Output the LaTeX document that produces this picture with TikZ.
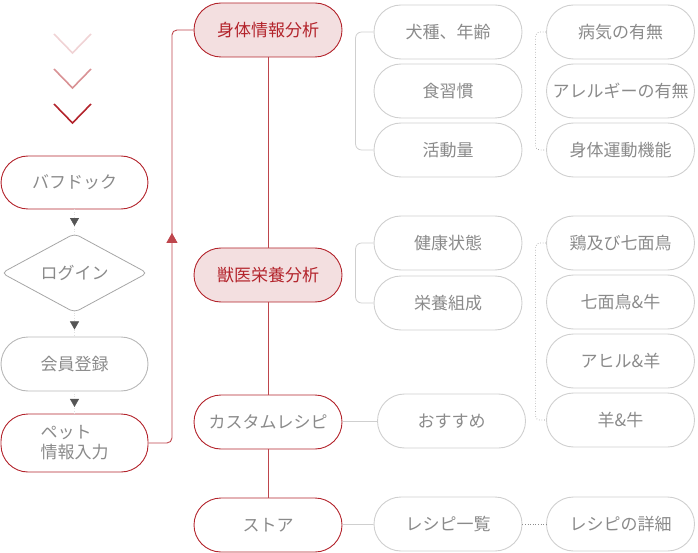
\documentclass[tikz,border=0pt]{standalone}
\usepackage{fontspec}
\setmainfont{Noto Sans CJK JP}
\usetikzlibrary{positioning}
\usetikzlibrary{shapes.geometric}
\usetikzlibrary{arrows.meta}
\usetikzlibrary{decorations.markings}

\definecolor{brand}{HTML}{B3242C}
\definecolor{blush}{HTML}{F3DFE0}
\definecolor{ink}{HTML}{8A8A8A}
\definecolor{rim}{HTML}{CFCFCF}
\definecolor{tipgray}{HTML}{555555}

\tikzset{
  pill/.style={draw=rim, line width=0.9pt, rounded corners=27pt, minimum width=148pt,
    minimum height=54pt, inner sep=0pt, text=ink, font=\fontsize{17pt}{20pt}\selectfont},
  redpill/.style={pill, draw=brand},
  pinkpill/.style={redpill, fill=blush, text=brand},
  gate/.style={diamond, draw=black!35, line width=0.8pt, rounded corners=5pt, aspect=1.85,
    minimum width=146pt, minimum height=79pt, inner sep=0pt, text=ink,
    font=\fontsize{17pt}{20pt}\selectfont},
  flow/.style={draw=black!12, dotted, postaction={decorate}, decoration={markings,
    mark=at position 0.7 with {\arrow{Triangle[width=9pt,length=8pt,color=tipgray]}}}},
  spine/.style={draw=brand!85, line width=0.9pt},
  bracket/.style={draw=rim, line width=0.8pt, rounded corners=6pt},
  dots/.style={draw=black!45, dotted, line width=0.6pt, rounded corners=4pt}
}

\begin{document}
\begin{tikzpicture}[x=1pt, y=-1pt, node distance=59pt, on grid]
    \useasboundingbox (0,0) rectangle (698,553);

    % chevrons
    \foreach \top/\tone in {34/brand!20, 69/brand!50, 104/brand}
        \draw[\tone, line width=1.6pt] (54,\top) -- (72.5,\top+19) -- (91,\top);

    % signup flow
    \node[redpill, minimum width=147pt, minimum height=53pt] (bafu) at (74.5,182.5) {バフドック};
    \node[gate] (login) [below=90.5pt of bafu] {ログイン};
    \node[pill, draw=black!28, minimum width=147pt] (member) [below=91pt of login] {会員登録};
    \node[redpill, minimum width=147pt, minimum height=58pt, align=left] (pet) [below=79pt of member] {ペット\\情報入力};

    % main steps
    \node[pinkpill] (body) at (268,30) {身体情報分析};
    \node[pinkpill] (vet) [below=245pt of body] {獣医栄養分析};
    \node[redpill] (custom) [below=147pt of vet] {カスタムレシピ};
    \node[redpill] (store) [below=103pt of custom] {ストア};

    % details
    \node[pill] (breed) at (448,32) {犬種、年齢};
    \node[pill] (habit) [below=of breed] {食習慣};
    \node[pill] (activity) [below=of habit] {活動量};
    \node[pill] (health) at (448,243) {健康状態};
    \node[pill] (nutrition) [below=60pt of health] {栄養組成};
    \node[pill] (recommend) at (451.5,421) {おすすめ};
    \node[pill] (recipes) at (448,524) {レシピ一覧};

    \node[pill] (illness) [right=172.5pt of breed] {病気の有無};
    \node[pill] (allergy) [below=of illness] {アレルギーの有無};
    \node[pill] (motor) [below=of allergy] {身体運動機能};
    \node[pill] (chicken) [right=172.5pt of health] {鶏及び七面鳥};
    \node[pill] (turkey) [below=of chicken] {七面鳥\&牛};
    \node[pill] (duck) [below=of turkey] {アヒル\&羊};
    \node[pill] (lamb) [below=of duck] {羊\&牛};
    \node[pill] (detail) [right=172.5pt of recipes] {レシピの詳細};

    \draw[flow] (bafu) -- (login);
    \draw[flow] (login) -- (member);
    \draw[flow] (member) -- (pet);

    \draw[spine] (body) -- (vet) -- (custom) -- (store);
    \draw[spine, rounded corners=5pt, postaction={decorate}, decoration={markings,
        mark=at position 0.51 with {\arrow{Triangle[width=11pt,length=10pt]}}}]
        (pet.east) -- ++(23.5,0) |- (body.west);

    \draw[bracket] (breed.west) -- ++(-18,0) |- (activity.west);
    \draw[bracket] (health.west) -- ++(-18,0) |- (nutrition.west);
    \draw[bracket] (custom) -- (recommend);
    \draw[bracket] (store) -- (recipes);

    \draw[dots] (illness.west) -- ++(-10.5,0) |- (motor.west);
    \draw[dots] (chicken.west) -- ++(-10.5,0) |- (lamb.west);
    \draw[dots] (recipes) -- (detail);
\end{tikzpicture}
\end{document}
